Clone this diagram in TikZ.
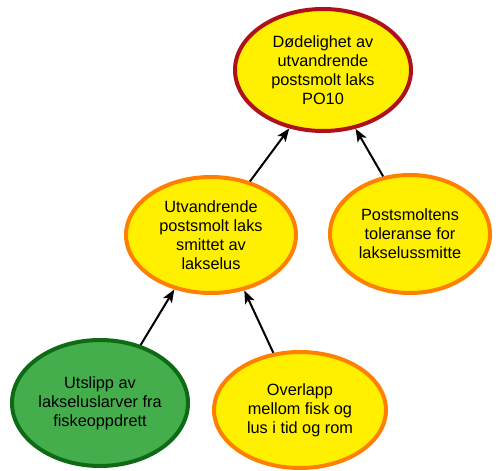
\documentclass[tikz,border=0pt]{standalone}
\usepackage{fontspec}
\setmainfont{Liberation Sans}
\usetikzlibrary{shapes.geometric, arrows.meta}
\definecolor{lusgul}{HTML}{FFF000}
\definecolor{lusoransje}{HTML}{FF8000}
\definecolor{lusrod}{HTML}{B0101A}
\definecolor{lusgronn}{HTML}{44AE4C}
\definecolor{lusmork}{HTML}{0F6A16}
\begin{document}
\begin{tikzpicture}[x=1pt, y=-1pt, >={Stealth[length=13pt, width=10pt, inset=3pt]},
  boble/.style={ellipse, draw=lusoransje, fill=lusgul, line width=4pt, inner sep=0pt,
    align=center, font=\fontsize{16.3}{19}\selectfont},
  pil/.style={->, line width=2pt}]
  \useasboundingbox (0,0) rectangle (499,471);

  \node[boble, draw=lusrod, minimum width=176, minimum height=122] (dod) at (323,70)
    {Dødelighet av\\utvandrende\\postsmolt laks\\PO10};
  \node[boble, minimum width=170, minimum height=116] (smitte) at (211,235)
    {Utvandrende\\postsmolt laks\\smittet av\\lakselus};
  \node[boble, minimum width=160, minimum height=118] (toleranse) at (410,234)
    {Postsmoltens\\toleranse for\\lakselussmitte};
  \node[boble, draw=lusmork, fill=lusgronn, minimum width=176, minimum height=126] (utslipp) at (100,403)
    {Utslipp av\\lakseluslarver fra\\fiskeoppdrett};
  \node[boble, minimum width=172, minimum height=116] (overlapp) at (300,410)
    {Overlapp\\mellom fisk og\\lus i tid og rom};

  \draw[pil] (smitte.54) -- (dod.240);
  \draw[pil] (toleranse.115) -- (dod.299);
  \draw[pil] (utslipp.55) -- (smitte.236);
  \draw[pil] (overlapp.115) -- (smitte.301);
\end{tikzpicture}
\end{document}
